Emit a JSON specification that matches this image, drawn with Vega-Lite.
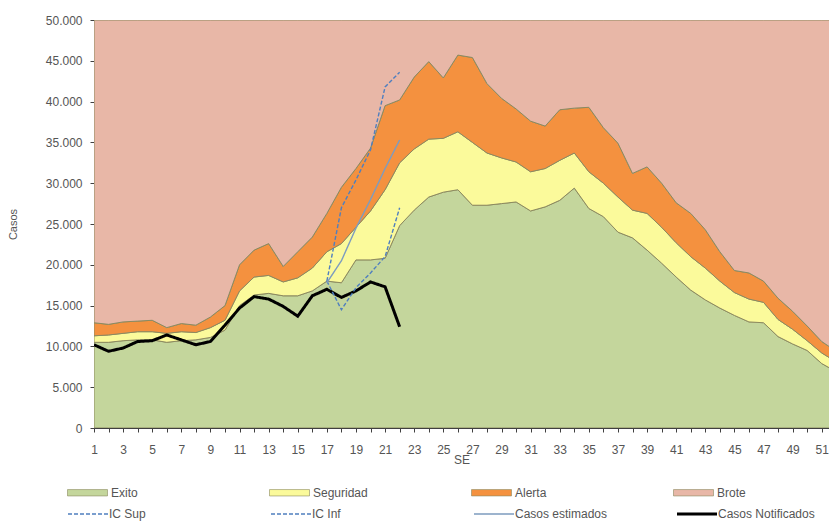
{
  "$schema": "https://vega.github.io/schema/vega-lite/v6.json",
  "width": 735,
  "height": 408,
  "autosize": {"type": "none"},
  "padding": {"left": 94, "top": 20, "right": 0, "bottom": 102},
  "background": "white",
  "config": {
    "view": {"stroke": null},
    "font": "Liberation Sans",
    "axis": {"labelFont": "Liberation Sans", "titleFont": "Liberation Sans", "labelColor": "#555555", "titleColor": "#555555", "domainColor": "#404040", "tickColor": "#404040", "grid": false, "titleFontWeight": "normal"},
    "axisX": {"labelOverlap": false},
    "legend": {"labelFont": "Liberation Sans", "labelColor": "#555555", "labelFontSize": 12}
  },
  "datasets": {
    "areas": [
      {"se":1,"zona":"Exito","casos":10500},{"se":1,"zona":"Seguridad","casos":800},{"se":1,"zona":"Alerta","casos":1600},{"se":1,"zona":"Brote","casos":37100},
      {"se":2,"zona":"Exito","casos":10500},{"se":2,"zona":"Seguridad","casos":900},{"se":2,"zona":"Alerta","casos":1300},{"se":2,"zona":"Brote","casos":37300},
      {"se":3,"zona":"Exito","casos":10700},{"se":3,"zona":"Seguridad","casos":900},{"se":3,"zona":"Alerta","casos":1400},{"se":3,"zona":"Brote","casos":37000},
      {"se":4,"zona":"Exito","casos":10800},{"se":4,"zona":"Seguridad","casos":1000},{"se":4,"zona":"Alerta","casos":1300},{"se":4,"zona":"Brote","casos":36900},
      {"se":5,"zona":"Exito","casos":10800},{"se":5,"zona":"Seguridad","casos":1000},{"se":5,"zona":"Alerta","casos":1400},{"se":5,"zona":"Brote","casos":36800},
      {"se":6,"zona":"Exito","casos":10500},{"se":6,"zona":"Seguridad","casos":1100},{"se":6,"zona":"Alerta","casos":700},{"se":6,"zona":"Brote","casos":37700},
      {"se":7,"zona":"Exito","casos":10700},{"se":7,"zona":"Seguridad","casos":1100},{"se":7,"zona":"Alerta","casos":1000},{"se":7,"zona":"Brote","casos":37200},
      {"se":8,"zona":"Exito","casos":10800},{"se":8,"zona":"Seguridad","casos":900},{"se":8,"zona":"Alerta","casos":900},{"se":8,"zona":"Brote","casos":37400},
      {"se":9,"zona":"Exito","casos":11100},{"se":9,"zona":"Seguridad","casos":1200},{"se":9,"zona":"Alerta","casos":1300},{"se":9,"zona":"Brote","casos":36400},
      {"se":10,"zona":"Exito","casos":12000},{"se":10,"zona":"Seguridad","casos":1200},{"se":10,"zona":"Alerta","casos":1800},{"se":10,"zona":"Brote","casos":35000},
      {"se":11,"zona":"Exito","casos":15000},{"se":11,"zona":"Seguridad","casos":1800},{"se":11,"zona":"Alerta","casos":3200},{"se":11,"zona":"Brote","casos":30000},
      {"se":12,"zona":"Exito","casos":16300},{"se":12,"zona":"Seguridad","casos":2200},{"se":12,"zona":"Alerta","casos":3300},{"se":12,"zona":"Brote","casos":28200},
      {"se":13,"zona":"Exito","casos":16500},{"se":13,"zona":"Seguridad","casos":2200},{"se":13,"zona":"Alerta","casos":3900},{"se":13,"zona":"Brote","casos":27400},
      {"se":14,"zona":"Exito","casos":16200},{"se":14,"zona":"Seguridad","casos":1700},{"se":14,"zona":"Alerta","casos":1900},{"se":14,"zona":"Brote","casos":30200},
      {"se":15,"zona":"Exito","casos":16200},{"se":15,"zona":"Seguridad","casos":2200},{"se":15,"zona":"Alerta","casos":3200},{"se":15,"zona":"Brote","casos":28400},
      {"se":16,"zona":"Exito","casos":16800},{"se":16,"zona":"Seguridad","casos":2800},{"se":16,"zona":"Alerta","casos":3800},{"se":16,"zona":"Brote","casos":26600},
      {"se":17,"zona":"Exito","casos":18000},{"se":17,"zona":"Seguridad","casos":3600},{"se":17,"zona":"Alerta","casos":4700},{"se":17,"zona":"Brote","casos":23700},
      {"se":18,"zona":"Exito","casos":17800},{"se":18,"zona":"Seguridad","casos":4800},{"se":18,"zona":"Alerta","casos":6900},{"se":18,"zona":"Brote","casos":20500},
      {"se":19,"zona":"Exito","casos":20600},{"se":19,"zona":"Seguridad","casos":4000},{"se":19,"zona":"Alerta","casos":7200},{"se":19,"zona":"Brote","casos":18200},
      {"se":20,"zona":"Exito","casos":20600},{"se":20,"zona":"Seguridad","casos":6000},{"se":20,"zona":"Alerta","casos":7700},{"se":20,"zona":"Brote","casos":15700},
      {"se":21,"zona":"Exito","casos":20800},{"se":21,"zona":"Seguridad","casos":8400},{"se":21,"zona":"Alerta","casos":10300},{"se":21,"zona":"Brote","casos":10500},
      {"se":22,"zona":"Exito","casos":24800},{"se":22,"zona":"Seguridad","casos":7700},{"se":22,"zona":"Alerta","casos":7700},{"se":22,"zona":"Brote","casos":9800},
      {"se":23,"zona":"Exito","casos":26700},{"se":23,"zona":"Seguridad","casos":7500},{"se":23,"zona":"Alerta","casos":8800},{"se":23,"zona":"Brote","casos":7000},
      {"se":24,"zona":"Exito","casos":28300},{"se":24,"zona":"Seguridad","casos":7100},{"se":24,"zona":"Alerta","casos":9500},{"se":24,"zona":"Brote","casos":5100},
      {"se":25,"zona":"Exito","casos":28900},{"se":25,"zona":"Seguridad","casos":6600},{"se":25,"zona":"Alerta","casos":7400},{"se":25,"zona":"Brote","casos":7100},
      {"se":26,"zona":"Exito","casos":29200},{"se":26,"zona":"Seguridad","casos":7100},{"se":26,"zona":"Alerta","casos":9400},{"se":26,"zona":"Brote","casos":4300},
      {"se":27,"zona":"Exito","casos":27300},{"se":27,"zona":"Seguridad","casos":7700},{"se":27,"zona":"Alerta","casos":10400},{"se":27,"zona":"Brote","casos":4600},
      {"se":28,"zona":"Exito","casos":27300},{"se":28,"zona":"Seguridad","casos":6400},{"se":28,"zona":"Alerta","casos":8500},{"se":28,"zona":"Brote","casos":7800},
      {"se":29,"zona":"Exito","casos":27500},{"se":29,"zona":"Seguridad","casos":5600},{"se":29,"zona":"Alerta","casos":7300},{"se":29,"zona":"Brote","casos":9600},
      {"se":30,"zona":"Exito","casos":27700},{"se":30,"zona":"Seguridad","casos":4900},{"se":30,"zona":"Alerta","casos":6500},{"se":30,"zona":"Brote","casos":10900},
      {"se":31,"zona":"Exito","casos":26600},{"se":31,"zona":"Seguridad","casos":4800},{"se":31,"zona":"Alerta","casos":6200},{"se":31,"zona":"Brote","casos":12400},
      {"se":32,"zona":"Exito","casos":27100},{"se":32,"zona":"Seguridad","casos":4700},{"se":32,"zona":"Alerta","casos":5200},{"se":32,"zona":"Brote","casos":13000},
      {"se":33,"zona":"Exito","casos":27900},{"se":33,"zona":"Seguridad","casos":4900},{"se":33,"zona":"Alerta","casos":6200},{"se":33,"zona":"Brote","casos":11000},
      {"se":34,"zona":"Exito","casos":29400},{"se":34,"zona":"Seguridad","casos":4300},{"se":34,"zona":"Alerta","casos":5500},{"se":34,"zona":"Brote","casos":10800},
      {"se":35,"zona":"Exito","casos":26900},{"se":35,"zona":"Seguridad","casos":4500},{"se":35,"zona":"Alerta","casos":7900},{"se":35,"zona":"Brote","casos":10700},
      {"se":36,"zona":"Exito","casos":25900},{"se":36,"zona":"Seguridad","casos":4100},{"se":36,"zona":"Alerta","casos":6800},{"se":36,"zona":"Brote","casos":13200},
      {"se":37,"zona":"Exito","casos":24000},{"se":37,"zona":"Seguridad","casos":4300},{"se":37,"zona":"Alerta","casos":6600},{"se":37,"zona":"Brote","casos":15100},
      {"se":38,"zona":"Exito","casos":23300},{"se":38,"zona":"Seguridad","casos":3400},{"se":38,"zona":"Alerta","casos":4500},{"se":38,"zona":"Brote","casos":18800},
      {"se":39,"zona":"Exito","casos":21800},{"se":39,"zona":"Seguridad","casos":4500},{"se":39,"zona":"Alerta","casos":5700},{"se":39,"zona":"Brote","casos":18000},
      {"se":40,"zona":"Exito","casos":20200},{"se":40,"zona":"Seguridad","casos":4400},{"se":40,"zona":"Alerta","casos":5400},{"se":40,"zona":"Brote","casos":20000},
      {"se":41,"zona":"Exito","casos":18500},{"se":41,"zona":"Seguridad","casos":4200},{"se":41,"zona":"Alerta","casos":4900},{"se":41,"zona":"Brote","casos":22400},
      {"se":42,"zona":"Exito","casos":16900},{"se":42,"zona":"Seguridad","casos":4100},{"se":42,"zona":"Alerta","casos":5300},{"se":42,"zona":"Brote","casos":23700},
      {"se":43,"zona":"Exito","casos":15700},{"se":43,"zona":"Seguridad","casos":3900},{"se":43,"zona":"Alerta","casos":4700},{"se":43,"zona":"Brote","casos":25700},
      {"se":44,"zona":"Exito","casos":14700},{"se":44,"zona":"Seguridad","casos":3300},{"se":44,"zona":"Alerta","casos":3600},{"se":44,"zona":"Brote","casos":28400},
      {"se":45,"zona":"Exito","casos":13800},{"se":45,"zona":"Seguridad","casos":2800},{"se":45,"zona":"Alerta","casos":2700},{"se":45,"zona":"Brote","casos":30700},
      {"se":46,"zona":"Exito","casos":13000},{"se":46,"zona":"Seguridad","casos":2800},{"se":46,"zona":"Alerta","casos":3200},{"se":46,"zona":"Brote","casos":31000},
      {"se":47,"zona":"Exito","casos":12900},{"se":47,"zona":"Seguridad","casos":2500},{"se":47,"zona":"Alerta","casos":2600},{"se":47,"zona":"Brote","casos":32000},
      {"se":48,"zona":"Exito","casos":11200},{"se":48,"zona":"Seguridad","casos":2100},{"se":48,"zona":"Alerta","casos":2600},{"se":48,"zona":"Brote","casos":34100},
      {"se":49,"zona":"Exito","casos":10300},{"se":49,"zona":"Seguridad","casos":1800},{"se":49,"zona":"Alerta","casos":2200},{"se":49,"zona":"Brote","casos":35700},
      {"se":50,"zona":"Exito","casos":9500},{"se":50,"zona":"Seguridad","casos":1200},{"se":50,"zona":"Alerta","casos":1800},{"se":50,"zona":"Brote","casos":37500},
      {"se":51,"zona":"Exito","casos":7900},{"se":51,"zona":"Seguridad","casos":1300},{"se":51,"zona":"Alerta","casos":1400},{"se":51,"zona":"Brote","casos":39400},
      {"se":52,"zona":"Exito","casos":6900},{"se":52,"zona":"Seguridad","casos":1200},{"se":52,"zona":"Alerta","casos":1300},{"se":52,"zona":"Brote","casos":40600}
    ],
    "lineas": [
      {"se":1,"serie":"Casos Notificados","casos":10200},{"se":2,"serie":"Casos Notificados","casos":9400},{"se":3,"serie":"Casos Notificados","casos":9800},
      {"se":4,"serie":"Casos Notificados","casos":10600},{"se":5,"serie":"Casos Notificados","casos":10700},{"se":6,"serie":"Casos Notificados","casos":11400},
      {"se":7,"serie":"Casos Notificados","casos":10800},{"se":8,"serie":"Casos Notificados","casos":10200},{"se":9,"serie":"Casos Notificados","casos":10600},
      {"se":10,"serie":"Casos Notificados","casos":12600},{"se":11,"serie":"Casos Notificados","casos":14700},{"se":12,"serie":"Casos Notificados","casos":16100},
      {"se":13,"serie":"Casos Notificados","casos":15800},{"se":14,"serie":"Casos Notificados","casos":14900},{"se":15,"serie":"Casos Notificados","casos":13700},
      {"se":16,"serie":"Casos Notificados","casos":16200},{"se":17,"serie":"Casos Notificados","casos":17000},{"se":18,"serie":"Casos Notificados","casos":16000},
      {"se":19,"serie":"Casos Notificados","casos":16800},{"se":20,"serie":"Casos Notificados","casos":17900},{"se":21,"serie":"Casos Notificados","casos":17300},
      {"se":22,"serie":"Casos Notificados","casos":12400},
      {"se":17,"serie":"IC Sup","casos":18000},{"se":18,"serie":"IC Sup","casos":27000},{"se":19,"serie":"IC Sup","casos":30400},
      {"se":20,"serie":"IC Sup","casos":34100},{"se":21,"serie":"IC Sup","casos":41800},{"se":22,"serie":"IC Sup","casos":43600},
      {"se":17,"serie":"IC Inf","casos":18000},{"se":18,"serie":"IC Inf","casos":14500},{"se":19,"serie":"IC Inf","casos":17200},
      {"se":20,"serie":"IC Inf","casos":19000},{"se":21,"serie":"IC Inf","casos":21000},{"se":22,"serie":"IC Inf","casos":27000},
      {"se":17,"serie":"Casos estimados","casos":17800},{"se":18,"serie":"Casos estimados","casos":20500},{"se":19,"serie":"Casos estimados","casos":24500},
      {"se":20,"serie":"Casos estimados","casos":28000},{"se":21,"serie":"Casos estimados","casos":31800},{"se":22,"serie":"Casos estimados","casos":35300}
    ]
  },
  "encoding": {
    "x": {
      "field": "se", "type": "quantitative",
      "scale": {"domain": [1, 51.5], "nice": false, "zero": false},
      "axis": {
        "title": "SE", "titleFontSize": 12, "titlePadding": -1,
        "values": [1,2,3,4,5,6,7,8,9,10,11,12,13,14,15,16,17,18,19,20,21,22,23,24,25,26,27,28,29,30,31,32,33,34,35,36,37,38,39,40,41,42,43,44,45,46,47,48,49,50,51],
        "labelExpr": "datum.value % 2 === 1 ? datum.label : ''",
        "labelOverlap": false, "labelFontSize": 12, "labelPadding": 12, "tickSize": 4, "labelFlush": false
      }
    },
    "y": {
      "field": "casos", "type": "quantitative",
      "scale": {"domain": [0, 50000], "nice": false},
      "axis": {
        "title": "Casos", "titleFontSize": 11, "titlePadding": 27,
        "values": [0,5000,10000,15000,20000,25000,30000,35000,40000,45000,50000],
        "labelExpr": "replace(format(datum.value, ',d'), ',', '.')",
        "labelFontSize": 12, "tickSize": 4, "labelPadding": 8
      }
    }
  },
  "layer": [
    {
      "data": {"name": "areas"},
      "transform": [{"calculate": "indexof(['Exito','Seguridad','Alerta','Brote'], datum.zona)", "as": "orden"}],
      "mark": {"type": "area", "stroke": "#8c8a60", "strokeWidth": 1, "clip": true, "interpolate": "linear"},
      "encoding": {
        "fill": {
          "field": "zona", "type": "nominal",
          "scale": {"domain": ["Exito","Seguridad","Alerta","Brote"], "range": ["#c4d69c","#fbfa9b","#f4913f","#e8b7a7"]},
          "legend": {
            "title": null, "orient": "none", "legendX": -27, "legendY": 452, "direction": "horizontal", "columns": 4,
            "gridAlign": "all", "columnPadding": 102, "symbolType": "M-1,-0.16H1V0.16H-1Z", "symbolSize": 1600,
            "symbolStrokeWidth": 0.6, "labelOffset": 3, "padding": 0
          }
        },
        "order": {"field": "orden", "type": "quantitative"}
      }
    },
    {
      "data": {"name": "lineas"},
      "mark": {"type": "line", "clip": true},
      "encoding": {
        "stroke": {
          "field": "serie", "type": "nominal",
          "scale": {"domain": ["IC Sup","IC Inf","Casos estimados","Casos Notificados"], "range": ["#4f7fbf","#4f7fbf","#7d9cbf","#000000"]},
          "legend": {
            "title": null, "orient": "none", "legendX": -12, "legendY": 488, "direction": "horizontal", "columns": 4,
            "gridAlign": "all", "columnPadding": 59, "symbolType": "stroke", "symbolSize": 1600, "symbolStrokeWidth": 1.6, "labelOffset": 15, "padding": 0,
            "encode": {"symbols": {"update": {
              "strokeWidth": {"signal": "datum.value === 'Casos Notificados' ? 3 : 1.5"},
              "strokeDash": {"signal": "datum.value === 'IC Sup' || datum.value === 'IC Inf' ? [4,2] : [1,0]"}
            }}}
          }
        },
        "strokeDash": {
          "field": "serie", "type": "nominal",
          "scale": {"domain": ["IC Sup","IC Inf","Casos estimados","Casos Notificados"], "range": [[4,2],[4,2],[1,0],[1,0]]},
          "legend": null
        },
        "strokeWidth": {"condition": {"test": "datum.serie === 'Casos Notificados'", "value": 3}, "value": 1.4}
      }
    }
  ]
}
